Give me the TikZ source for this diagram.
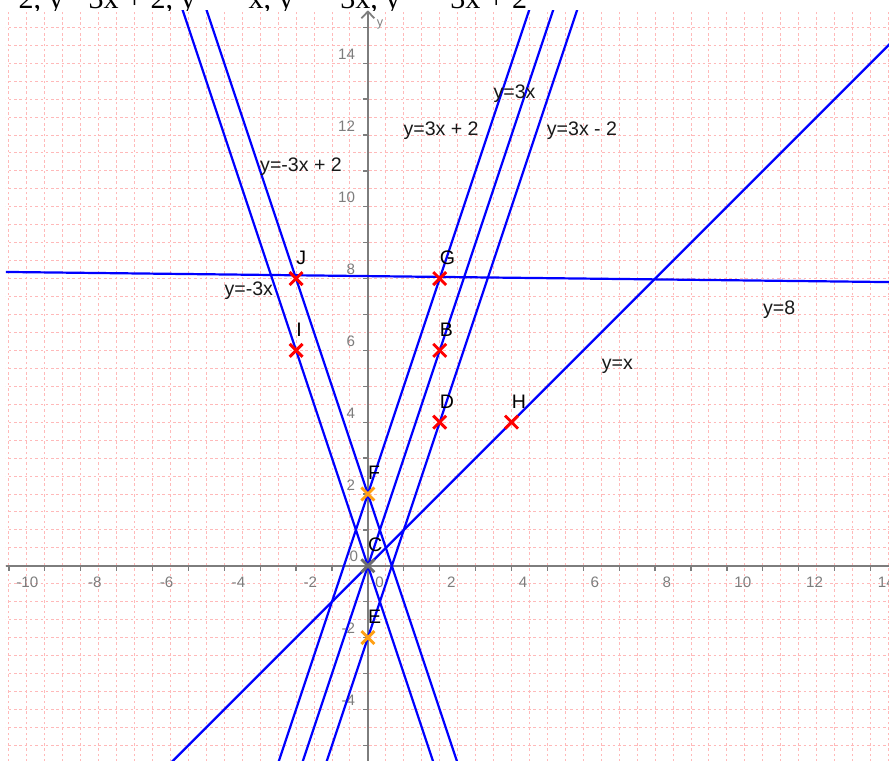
\documentclass[tikz,border=0pt]{standalone}
\usepackage{fontspec}
\setmainfont{Liberation Sans}
\newfontfamily\timesf{Liberation Serif}
\usetikzlibrary{shapes.misc}
\definecolor{gridpink}{RGB}{255,185,185}
\definecolor{axgray}{RGB}{125,125,125}
\definecolor{fblue}{RGB}{0,0,255}
\definecolor{ptorange}{RGB}{255,160,20}
\definecolor{ptgray}{RGB}{110,110,110}
\begin{document}
\begin{tikzpicture}[x=1cm,y=1cm,
  gridline/.style={draw=gridpink, line width=0.75pt, dash pattern=on 2pt off 2.2pt},
  axisline/.style={draw=axgray, line width=1.4pt},
  tickline/.style={draw=axgray, line width=1pt},
  fline/.style={draw=fblue, line width=1.75pt},
  axlab/.style={text=axgray, font=\fontsize{12}{12}\selectfont, inner sep=0pt},
  ptlab/.style={text=black, font=\fontsize{15.5}{16}\selectfont, inner sep=0pt, anchor=base west},
  eqlab/.style={text=black!90, font=\fontsize{15.5}{16}\selectfont, inner sep=0pt, anchor=base west},
  toptext/.style={text=black, font=\timesf\fontsize{23.8}{26}\selectfont, inner sep=0pt, anchor=base west},
  ptmark/.style={cross out, draw=#1, line width=2.3pt, minimum size=0.28cm, inner sep=0pt}
]
\useasboundingbox (-10.248,-5.437) rectangle (14.515,15.760);
\clip (-10.248,-5.437) rectangle (14.515,15.760);
% heading strip (partly hidden, as in the reference)
\node[toptext] (t1) at (-9.738,15.529) {2, y};
\node[toptext] (t2) at (-7.788,15.529) {3x + 2, y};
\node[toptext] (t3) at (-3.331,15.529) {x, y};
\node[toptext] (t4) at (-0.777,15.529) {3x, y};
\node[toptext] (t5) at (2.287,15.529) {3x + 2};
% viewport
\fill[white] (-10.081,-5.437) rectangle (14.515,15.454);
\begin{scope}
\clip (-10.081,-5.437) rectangle (14.515,15.454);
% grid
\foreach \i in {-21,...,30} \draw[gridline] (\i/2,-5.6) -- (\i/2,15.6);
\foreach \j in {-11,...,32} \draw[gridline] (-10.3,\j/2) -- (14.6,\j/2);
% axes
\draw[axisline] (-10.1,0) -- (14.6,0);
\draw[axisline] (0,-5.5) -- (0,15.44);
\draw[axisline, line join=round] (-0.18,15.25) -- (0,15.44) -- (0.18,15.25);
\foreach \i in {-10,...,14} \draw[tickline] (\i,0) -- (\i,-0.14);
\foreach \j in {-5,...,15} \draw[tickline] (0,\j) -- (-0.14,\j);
% tick labels
\foreach \i in {-10,-8,-6,-4,-2,0,2,4,6,8,10,12,14}
  \node[axlab, anchor=base west] (xl\i) at (\i+0.2,-0.605) {\i};
\foreach \j in {-4,-2,2,4,6,8,10,12,14}
  \node[axlab, anchor=base east] (yl\j) at (-0.35,\j+0.11) {\j};
\node[axlab, anchor=base east] (yl0) at (-0.27,0.11) {0};
\node[axlab, anchor=base west, font=\fontsize{10}{10}\selectfont] (ylab) at (0.24,15.02) {y};
% lines
\draw[fline] (-12,-36) -- (16,48);
\draw[fline] (-12,-34) -- (16,50);
\draw[fline] (-12,-38) -- (16,46);
\draw[fline] (-12,36) -- (16,-48);
\draw[fline] (-12,38) -- (16,-46);
\draw[fline] (-12,-12) -- (16,16);
\draw[fline] (-10.2,8.186) -- (14.6,7.902);
% points
\node[ptmark=red] (pJ) at (-2,8) {};
\node[ptmark=red] (pG) at (2,8) {};
\node[ptmark=red] (pI) at (-2,6) {};
\node[ptmark=red] (pB) at (2,6) {};
\node[ptmark=red] (pD) at (2,4) {};
\node[ptmark=red] (pH) at (4,4) {};
\node[ptmark=ptorange] (pF) at (0,2) {};
\node[ptmark=ptgray] (pC) at (0,0) {};
\node[ptmark=ptorange] (pE) at (0,-2) {};
\foreach \p/\n in {J/J,G/G,I/I,B/B,D/D,H/H,F/F,C/C,E/E}
  \node[ptlab] (l\p) at ([yshift=0.39cm]p\p.center) {\n};
% equation labels
\node[eqlab] (e1) at (3.493,13.003) {y=3x};
\node[eqlab] (e2) at (0.986,11.98) {y=3x + 2};
\node[eqlab] (e3) at (4.98,11.98) {y=3x - 2};
\node[eqlab] (e4) at (-3.006,10.978) {y=-3x + 2};
\node[eqlab] (e5) at (-4.0,7.53) {y=-3x};
\node[eqlab] (e6) at (11.0,7.01) {y=8};
\node[eqlab] (e7) at (6.51,5.47) {y=x};
\end{scope}
\end{tikzpicture}
\end{document}
